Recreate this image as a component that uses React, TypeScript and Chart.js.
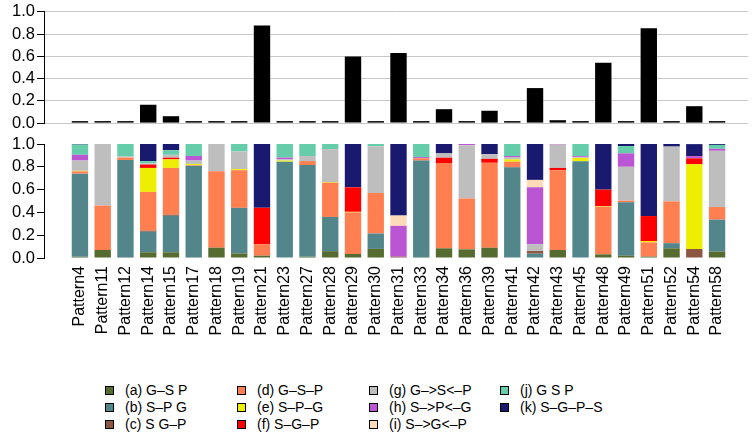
import React, { useEffect, useRef } from 'react';
import { Chart, registerables } from 'chart.js';

Chart.register(...registerables);

const categories = [
  'Pattern4', 'Pattern11', 'Pattern12', 'Pattern14', 'Pattern15', 'Pattern17', 'Pattern18', 'Pattern19',
  'Pattern21', 'Pattern23', 'Pattern27', 'Pattern28', 'Pattern29', 'Pattern30', 'Pattern31', 'Pattern33',
  'Pattern34', 'Pattern36', 'Pattern39', 'Pattern41', 'Pattern42', 'Pattern43', 'Pattern45', 'Pattern48',
  'Pattern49', 'Pattern51', 'Pattern52', 'Pattern54', 'Pattern58',
];

const topValues = [
  0.008, 0.003, 0.003, 0.165, 0.062, 0.006, 0.004, 0.006,
  0.878, 0.003, 0.003, 0.006, 0.598, 0.003, 0.63, 0.003,
  0.125, 0.007, 0.111, 0.003, 0.315, 0.026, 0.003, 0.542,
  0.017, 0.854, 0.017, 0.152, 0.009,
];

const segA = [0.01, 0.07, 0.005, 0.05, 0.05, 0.005, 0.09, 0.04, 0.02, 0, 0.01, 0.06, 0.035, 0.08, 0, 0.005, 0.085, 0.076, 0.09, 0, 0, 0.07, 0, 0.032, 0.02, 0.012, 0.085, 0, 0.056];
const segB = [0.73, 0, 0.855, 0.18, 0.32, 0.805, 0, 0.40, 0, 0.845, 0.805, 0.30, 0, 0.135, 0, 0.85, 0, 0, 0, 0.795, 0.038, 0, 0.848, 0, 0.468, 0, 0.045, 0, 0.28];
const segC = [0, 0, 0, 0.01, 0.01, 0, 0, 0, 0, 0, 0, 0, 0, 0, 0.012, 0, 0, 0, 0, 0, 0.023, 0, 0, 0, 0, 0, 0, 0.079, 0];
const segD = [0.02, 0.39, 0.02, 0.34, 0.41, 0.005, 0.67, 0.33, 0.10, 0, 0.035, 0.30, 0.365, 0.355, 0, 0.02, 0.748, 0.447, 0.745, 0.05, 0, 0.70, 0, 0.418, 0.015, 0.125, 0.367, 0, 0.111];
const segE = [0.005, 0, 0, 0.21, 0.075, 0.01, 0, 0.01, 0, 0.01, 0, 0.005, 0.005, 0, 0, 0, 0, 0, 0, 0.02, 0, 0, 0.03, 0.005, 0, 0.012, 0, 0.743, 0];
const segF = [0, 0, 0, 0.03, 0.015, 0, 0, 0, 0.32, 0, 0, 0, 0.215, 0, 0, 0, 0.047, 0, 0.035, 0, 0, 0.02, 0, 0.145, 0, 0.219, 0, 0.052, 0];
const segG = [0.09, 0.54, 0.01, 0.01, 0.025, 0.03, 0.24, 0.155, 0, 0.01, 0.045, 0.29, 0, 0.41, 0, 0, 0.038, 0.467, 0.04, 0.02, 0.06, 0.205, 0.005, 0, 0.297, 0, 0.48, 0, 0.493];
const segH = [0.05, 0, 0, 0, 0, 0.04, 0, 0, 0, 0.015, 0, 0, 0, 0, 0.27, 0.01, 0, 0.01, 0, 0.01, 0.50, 0.005, 0.01, 0, 0.118, 0, 0, 0.02, 0.018];
const segI = [0, 0, 0, 0, 0, 0, 0, 0, 0, 0, 0, 0, 0, 0, 0.09, 0, 0, 0, 0, 0, 0.064, 0, 0, 0, 0, 0, 0, 0, 0];
const segJ = [0.09, 0, 0.11, 0.02, 0.04, 0.105, 0, 0.065, 0, 0.12, 0.105, 0.045, 0, 0.02, 0, 0.115, 0, 0, 0, 0.105, 0, 0, 0.107, 0, 0.064, 0, 0, 0, 0.034];
const segK = [0.01, 0, 0, 0.15, 0.055, 0, 0, 0, 0.56, 0, 0, 0, 0.38, 0, 0.63, 0, 0.082, 0, 0.09, 0, 0.316, 0, 0, 0.40, 0.018, 0.632, 0.023, 0.105, 0.009];

const seriesLabels = [
  '(a) G–S P', '(b) S–P G', '(c) S G–P', '(d) G–S–P', '(e) S–P–G', '(f) S–G–P',
  '(g) G–>S<–P', '(h) S–>P<–G', '(i) S–>G<–P', '(j) G S P', '(k) S–G–P–S',
];
const seriesValues = [segA, segB, segC, segD, segE, segF, segG, segH, segI, segJ, segK];
const seriesColors = [
  '#556B2F', '#53868B', '#8B5742', '#FF7F50', '#EEEE00', '#FF0000',
  '#BEBEBE', '#BA55D3', '#FFDAB9', '#66CDAA', '#191970',
];

const yTicks = [0, 0.2, 0.4, 0.6, 0.8, 1.0];

const FONT = "'Liberation Sans', Arial, Helvetica, sans-serif";

function xScale(showLabels: boolean) {
  return {
    type: 'linear',
    display: showLabels,
    min: -1.58,
    max: 29.36,
    offset: false,
    stacked: true,
    grid: { display: false, drawTicks: false },
    border: { display: false },
    afterBuildTicks: (axis: any) => {
      axis.ticks = categories.map((_, i) => ({ value: i }));
    },
    afterFit: (axis: any) => {
      if (showLabels) axis.height = 92;
    },
    ticks: {
      autoSkip: false,
      minRotation: 90,
      maxRotation: 90,
      padding: 8,
      color: '#000',
      font: { family: FONT, size: 16 },
      callback: (v: any) => categories[v] ?? '',
    },
  };
}

function yScale(gridOnArea: boolean) {
  return {
    type: 'linear',
    min: 0,
    max: 1,
    stacked: true,
    afterBuildTicks: (axis: any) => {
      axis.ticks = yTicks.map((v) => ({ value: v }));
    },
    afterFit: (axis: any) => {
      axis.width = 44;
    },
    ticks: {
      autoSkip: false,
      color: '#000',
      padding: 2,
      font: { family: FONT, size: 16.5 },
      callback: (v: any) => Number(v).toFixed(1),
    },
    grid: {
      drawOnChartArea: gridOnArea,
      color: '#c8c8c8',
      tickColor: '#000',
      tickLength: 7,
      lineWidth: 1,
    },
    border: { display: true, color: '#000', width: 1 },
  };
}

export default function App() {
  const topRef = useRef<HTMLCanvasElement>(null);
  const botRef = useRef<HTMLCanvasElement>(null);

  useEffect(() => {
    const topChart = new Chart(topRef.current as HTMLCanvasElement, {
      type: 'bar',
      data: {
        datasets: [
          {
            label: 'total',
            data: topValues.map((v, i) => ({ x: i, y: v })),
            backgroundColor: '#000',
            borderColor: '#000',
            borderWidth: 0,
            minBarLength: 2,
            barPercentage: 0.72,
            categoryPercentage: 1,
          },
        ],
      },
      options: {
        responsive: false,
        animation: false,
        layout: { padding: { top: 10, bottom: 10.5, left: 0, right: 5 } },
        plugins: { legend: { display: false }, tooltip: { enabled: false } },
        scales: { x: xScale(false) as any, y: yScale(true) as any },
      },
    });

    const botChart = new Chart(botRef.current as HTMLCanvasElement, {
      type: 'bar',
      data: {
        datasets: seriesValues.map((vals, s) => ({
          label: seriesLabels[s],
          data: vals.map((v, i) => ({ x: i, y: v })),
          backgroundColor: seriesColors[s],
          borderWidth: 0,
          barPercentage: 0.72,
          categoryPercentage: 1,
        })),
      },
      options: {
        responsive: false,
        animation: false,
        layout: { padding: { top: 14, bottom: 0, left: 0, right: 5 } },
        plugins: { legend: { display: false }, tooltip: { enabled: false } },
        scales: { x: xScale(true) as any, y: yScale(false) as any },
      },
    });

    return () => {
      topChart.destroy();
      botChart.destroy();
    };
  }, []);

  const colX = [105, 237, 369, 500];
  const rowY = [390, 407, 424];

  return (
    <div style={{ position: 'absolute', left: 0, top: 0, width: 753, height: 437, background: '#fff', fontFamily: FONT }}>
      <canvas ref={topRef} width={753} height={135} style={{ position: 'absolute', left: 0, top: 0 }} />
      <canvas ref={botRef} width={753} height={220} style={{ position: 'absolute', left: 0, top: 130 }} />
      {seriesLabels.map((lab, n) => {
        const c = Math.floor(n / 3);
        const r = n % 3;
        return (
          <div key={lab} style={{ position: 'absolute', left: colX[c], top: rowY[r] - 9, height: 18, display: 'flex', alignItems: 'center', whiteSpace: 'nowrap' }}>
            <span style={{ display: 'inline-block', width: 7, height: 7, border: '1px solid #000', background: seriesColors[n] }} />
            <span style={{ marginLeft: 11, fontSize: 14, color: '#000', lineHeight: '18px' }}>{lab}</span>
          </div>
        );
      })}
    </div>
  );
}
